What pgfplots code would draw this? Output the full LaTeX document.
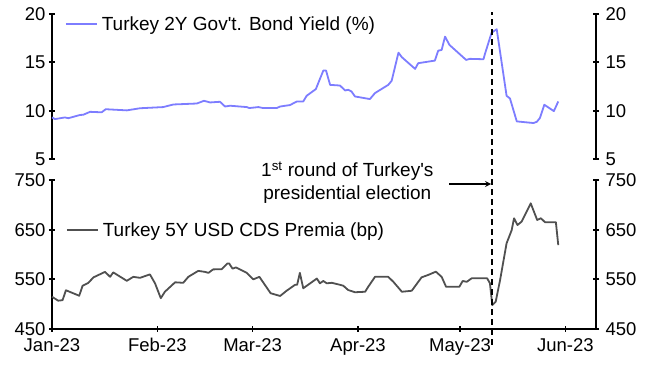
\documentclass[border=0pt]{standalone}
\usepackage{fontspec}
\setmainfont{Liberation Sans}
\usepackage{pgfplots}
\pgfplotsset{compat=1.18}
\definecolor{yieldblue}{RGB}{125,125,255}
\definecolor{cdsgrey}{RGB}{80,80,80}
\newcommand\fs{\fontsize{19}{22.8}\selectfont}
\newcommand\ft{\fontsize{18.5}{22}\selectfont}
\pgfplotsset{
  base/.style={
    scale only axis, width=544pt, xmin=0, xmax=160,
    tick align=outside, major tick length=6pt,
    axis line style={-, line width=1.7pt, black},
    every tick/.style={line width=1.7pt, black},
    ticklabel style={font=\ft},
    /pgf/number format/assume math mode=true,
    clip=false,
  },
  noarrows/.style={
    x axis line style={-}, y axis line style={-},
    every outer x axis line/.append style={-},
    every outer y axis line/.append style={-},
    every inner x axis line/.append style={-},
    every inner y axis line/.append style={-},
  },
  leg/.style={
    legend style={draw=none, fill=none, inner sep=0pt, outer sep=0pt,
      nodes={inner sep=0pt, font=\fs}, column sep=4pt,
      at={(rel axis cs:0,1)}, anchor=north west},
    legend image code/.code={\draw[##1] (0pt,0pt) -- (31pt,0pt);},
  },
}
\begin{document}
\begin{tikzpicture}
\useasboundingbox (0,0) rectangle (645pt,364pt);
% ---- top panel, left
\begin{axis}[base, at={(52pt,205pt)}, anchor=south west, height=145pt,
  ymin=5, ymax=20, ytick={5,10,15,20},
  axis y line=left, axis x line=none, xtick=\empty, noarrows,
  leg, legend style={xshift=13pt, yshift=-2.7pt}]
\addplot[yieldblue, line width=1.8pt, line join=round] coordinates {
(0,9.3)(0.9,9.13)(3.8,9.3)(4.8,9.22)(8.2,9.55)(9.2,9.58)(11.2,9.88)(14.6,9.83)
(15.8,10.15)(22.0,10.03)(25.9,10.25)(32.7,10.37)(35.7,10.64)(42.6,10.74)(44.7,11.02)
(46.5,10.85)(49.4,10.92)(50.9,10.43)(52.4,10.51)(57.3,10.37)(58.0,10.27)(60.7,10.37)
(62.1,10.27)(66.1,10.27)(67.1,10.43)(70.0,10.58)(72.0,10.95)(73.9,10.95)(74.9,11.54)
(77.6,12.23)(79.8,14.15)(80.6,14.15)(81.8,12.67)(84.7,12.6)(86.2,12.09)(87.1,12.16)
(88.1,11.98)(89.1,11.47)(93.5,11.2)(95.0,11.82)(98.9,12.67)(99.9,13.09)(101.9,16.0)
(102.9,15.53)(106.8,14.32)(107.7,14.91)(112.6,15.18)(113.6,16.21)(114.6,16.28)
(115.6,17.66)(116.9,16.8)(121.8,15.25)(122.9,15.36)(126.9,15.32)(127.4,15.94)
(129.3,18.07)(130.8,18.42)(133.7,11.54)(134.7,11.26)(136.7,8.89)(141.6,8.72)
(142.6,8.85)(143.5,9.24)(144.8,10.61)(147.6,9.95)(148.9,10.95)
};
\addlegendentry{Turkey 2Y Gov\textquotesingle t. Bond Yield (\%)}
\end{axis}
% ---- top panel, right
\begin{axis}[base, at={(52pt,205pt)}, anchor=south west, height=145pt,
  ymin=5, ymax=20, ytick={5,10,15,20},
  axis y line=right, axis x line=none, xtick=\empty, noarrows,
  yticklabel style={xshift=3pt}]
\end{axis}
% ---- bottom panel, left
\begin{axis}[base, at={(52pt,35pt)}, anchor=south west, height=149pt,
  ymin=450, ymax=750, ytick={450,550,650,750},
  axis y line=left, axis x line=bottom, noarrows,
  xtick={0,31,59,90,120,151},
  xticklabels={Jan-23,Feb-23,Mar-23,Apr-23,May-23,Jun-23},
  xticklabel style={yshift=-3pt},
  leg, legend style={xshift=14pt, yshift=-42.7pt}]
\addplot[cdsgrey, line width=1.8pt, line join=round] coordinates {
(0,515)(1.8,507)(3.1,508)(4.1,528)(8.0,517)(9.0,537)(10.7,543)(12.2,554)(15.6,565)
(17.1,555)(18.0,564)(22.0,547)(23.9,555)(25.9,553)(28.8,560)(30.3,542)(32.0,512)
(33.2,525)(36.2,544)(38.6,543)(40.1,555)(43.0,567)(45.0,565)(46.0,563)(47.4,570)
(49.9,570.5)(51.6,582)(52.1,582)(53.1,571.5)(54.1,574)(57.3,563)(59.2,550)(61.0,555)
(64.3,522)(67.1,516.5)(69.0,527)(71.5,539)(72.1,539)(72.9,563)(73.9,532)(77.9,551.6)
(78.8,542)(79.8,546.7)(80.8,542)(82.3,543)(84.7,539)(85.7,537)(87.1,528.5)(89.1,524)
(92.1,525)(93.0,535)(95.0,555)(98.9,555)(100.4,545)(102.9,525)(105.8,527)(108.7,554)
(110.7,559)(112.9,565.4)(114.6,555)(115.9,535)(119.8,535)(120.8,546.7)(122.0,545)
(123.4,552)(128.0,552)(128.8,542)(129.5,498)(130.5,505)(131.8,549)(133.7,622.6)
(135.2,649)(135.9,673)(136.9,659.4)(138.1,666)(140.8,703)(142.7,669.5)(143.8,673)
(145.0,665)(148.2,665)(148.9,619)
};
\addlegendentry{Turkey 5Y USD CDS Premia (bp)}
\draw[black, line width=1.8pt, dash pattern=on 6pt off 4pt]
  (axis cs:129.5,418) -- (axis cs:129.5,1088);
\end{axis}
% ---- bottom panel, right
\begin{axis}[base, at={(52pt,35pt)}, anchor=south west, height=149pt,
  ymin=450, ymax=750, ytick={450,550,650,750},
  axis y line=right, axis x line=none, xtick=\empty, noarrows,
  yticklabel style={xshift=3pt}]
\end{axis}
% ---- annotation
\node[anchor=base, inner sep=0pt, font=\fs] at (347.3pt,187pt)
  {1\textsuperscript{st} round of Turkey\textquotesingle s};
\node[anchor=base, inner sep=0pt, font=\fs] at (347.3pt,164pt)
  {presidential election};
\draw[-stealth, line width=1.6pt] (449pt,180pt) -- (491pt,180pt);
\end{tikzpicture}
\end{document}
